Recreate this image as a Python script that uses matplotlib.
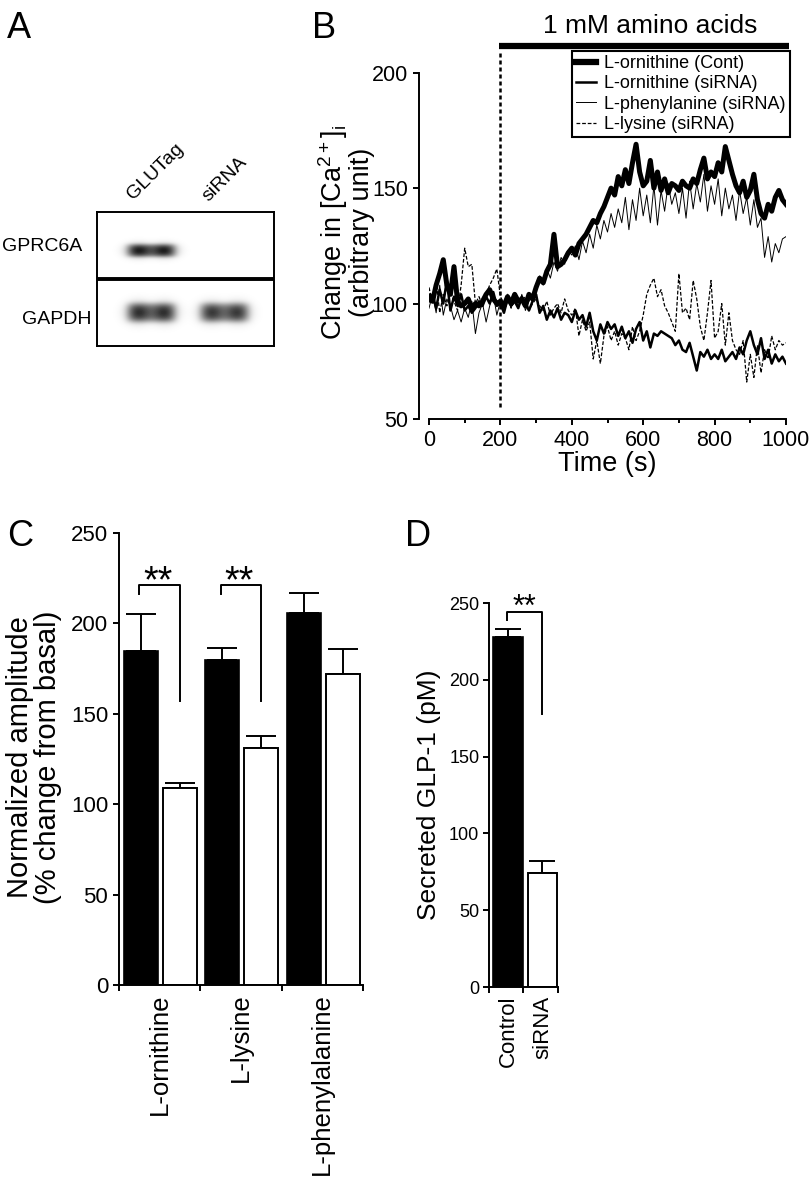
import numpy as np
import matplotlib.pyplot as plt

plt.rcParams['font.family'] = ['Liberation Sans', 'DejaVu Sans']
plt.rcParams['mathtext.fontset'] = 'custom'
plt.rcParams['mathtext.rm'] = 'Liberation Sans'
plt.rcParams['mathtext.it'] = 'Liberation Sans:italic'
plt.rcParams['axes.linewidth'] = 1.4

W, H = 812, 1182

# ---- panel A: western blot ----
blot_lanes = ['GLUTag', 'siRNA']
blot_bands = ['GPRC6A', 'GAPDH']
band_levels = [[0.85, 0.0],
               [0.78, 0.74]]

# ---- panel B: Ca2+ traces, sampled every 10 s ----
time_s = np.arange(0, 1001, 10)
orn_cont = [103, 101, 108, 113, 119, 108, 104, 116, 101, 99,
            100, 102, 98, 100, 99, 101, 104, 106, 102, 100,
            101, 99, 103, 100, 104, 101, 102, 99, 104, 102,
            107, 111, 109, 114, 117, 130, 116, 117, 119, 122,
            124, 121, 126, 128, 130, 133, 136, 135, 139, 142,
            146, 150, 147, 155, 151, 158, 152, 161, 169, 157,
            151, 153, 162, 150, 157, 149, 154, 148, 152, 151,
            149, 153, 151, 150, 154, 152, 158, 163, 154, 157,
            155, 161, 157, 168, 162, 156, 151, 148, 153, 146,
            149, 156, 145, 139, 137, 143, 140, 146, 149, 145,
            143]
orn_sirna = [101, 104, 98, 106, 100, 110, 97, 103, 99, 104,
             97, 99, 96, 98, 101, 99, 103, 100, 105, 99,
             100, 96, 102, 99, 101, 98, 103, 100, 97, 101,
             104, 96, 99, 93, 97, 94, 98, 93, 96, 95,
             92, 97, 93, 95, 90, 96, 88, 84, 91, 87,
             92, 89, 91, 86, 90, 85, 88, 83, 89, 92,
             84, 88, 81, 87, 86, 88, 87, 86, 85, 82,
             84, 80, 79, 83, 77, 71, 79, 77, 80, 76,
             78, 76, 80, 75, 77, 79, 76, 81, 78, 84,
             88, 82, 78, 85, 76, 80, 74, 78, 75, 77,
             74]
phe_sirna = [98, 104, 96, 108, 95, 102, 99, 93, 97, 92,
             98, 94, 101, 87, 96, 100, 92, 99, 104, 95,
             101, 97, 103, 99, 102, 98, 104, 97, 101, 103,
             106, 112, 108, 115, 111, 118, 114, 120, 117, 123,
             121, 125, 119, 127, 122, 130, 124, 134, 128, 136,
             131, 139, 133, 141, 135, 146, 132, 145, 136, 150,
             138, 147, 135, 151, 134, 149, 140, 152, 143, 148,
             139, 150, 137, 153, 141, 152, 144, 156, 140, 151,
             143, 154, 138, 150, 141, 147, 136, 149, 139, 146,
             134, 145, 133, 137, 120, 129, 118, 126, 122, 128,
             129]
lys_sirna = [107, 100, 110, 96, 104, 99, 105, 101, 97, 108,
             124, 116, 117, 100, 103, 99, 104, 108, 111, 115,
             103, 100, 104, 98, 102, 99, 101, 103, 97, 100,
             102, 99, 97, 101, 95, 98, 100, 96, 102, 97,
             95, 98, 86, 93, 88, 92, 76, 84, 74, 86,
             90, 84, 88, 82, 87, 85, 80, 90, 84, 88,
             95, 104, 108, 111, 103, 106, 99, 96, 92, 88,
             113, 96, 98, 93, 110, 102, 90, 84, 96, 110,
             85, 88, 100, 82, 96, 84, 80, 78, 84, 66,
             78, 68, 82, 70, 80, 76, 86, 80, 84, 82,
             83]

# ---- panel C: normalized amplitude ----
amino_acids = ['L-ornithine', 'L-lysine', 'L-phenylalanine']
amp_cont = [185, 180, 206]
amp_cont_err = [20, 6.5, 11]
amp_sirna = [109, 131, 172]
amp_sirna_err = [3, 6.5, 14]

# ---- panel D: secreted GLP-1 ----
glp_groups = ['Control', 'siRNA']
glp_mean = [228, 74]
glp_err = [5, 8]


def px_axes(fig, left, top, right, bottom):
    return fig.add_axes([left / W, 1 - bottom / H, (right - left) / W, (bottom - top) / H])


def ftext(fig, x, y, s, **kw):
    return fig.text(x / W, 1 - y / H, s, **kw)


fig = plt.figure(figsize=(W / 100, H / 100), dpi=100)

# panel letters
for letter, (lx, ly) in zip('ABCD', [(7, 38), (312, 38), (7, 546), (405, 546)]):
    ftext(fig, lx, ly, letter, fontsize=26, va='baseline', ha='left')

# ---------- A ----------
axA = px_axes(fig, 97, 212, 274, 346)
bw, bh = 177, 134
yy, xx = np.mgrid[0:bh, 0:bw]
img = np.zeros((bh, bw))
lane_x = [54, 127]
band_y = [38, 100]
band_h = [6.5, 9.5]
for bi in range(len(blot_bands)):
    for li in range(len(blot_lanes)):
        lvl = band_levels[bi][li]
        for dx in (-13, 13):
            img += lvl * 0.55 * np.exp(-((xx - lane_x[li] - dx) / 12.0) ** 2
                                       - ((yy - band_y[bi]) / band_h[bi]) ** 2)
        img += lvl * 0.5 * np.exp(-((xx - lane_x[li]) / 24.0) ** 6
                                  - ((yy - band_y[bi]) / band_h[bi]) ** 4)
img = np.clip(img, 0, 0.9)
axA.imshow(img, cmap='gray_r', vmin=0, vmax=1, extent=(0, bw, bh, 0),
           aspect='auto', interpolation='bilinear')
axA.axhline(67, color='k', lw=2.8)
axA.set_xticks([])
axA.set_yticks([])
for sp in axA.spines.values():
    sp.set_linewidth(1.4)

ftext(fig, 82, 247, blot_bands[0], fontsize=14, ha='right', va='center')
ftext(fig, 92, 320, blot_bands[1], fontsize=14, ha='right', va='center')
ftext(fig, 133, 200, blot_lanes[0], fontsize=14, rotation=45,
      rotation_mode='anchor', ha='left', va='baseline')
ftext(fig, 208, 202, blot_lanes[1], fontsize=14, rotation=45,
      rotation_mode='anchor', ha='left', va='baseline')

# ---------- B ----------
axB = px_axes(fig, 429, 45, 786, 419)
axB.plot(time_s, lys_sirna, color='k', lw=0.9, ls=(0, (3, 1.5)),
         label='L-lysine (siRNA)')
axB.plot(time_s, phe_sirna, color='k', lw=0.7, label='L-phenylanine (siRNA)')
axB.plot(time_s, orn_sirna, color='k', lw=1.8, label='L-ornithine (siRNA)')
axB.plot(time_s, orn_cont, color='k', lw=3.6, label='L-ornithine (Cont)')
axB.set_xlim(0, 1000)
axB.set_ylim(50, 212)
axB.plot([196, 1008], [211.7, 211.7], color='k', lw=4.5,
         solid_capstyle='butt', clip_on=False)
axB.plot([199, 199], [55, 209], color='k', lw=1.8, ls=(0, (1.6, 1.2)))
axB.text(620, 217.3, '1 mM amino acids', fontsize=19, ha='center',
         va='baseline', clip_on=False)

for sp in ['top', 'right']:
    axB.spines[sp].set_visible(False)
axB.spines['left'].set_position(('outward', 7.2))
axB.spines['left'].set_bounds(50, 200)
axB.set_yticks([50, 100, 150, 200])
axB.set_xticks(np.arange(0, 1001, 200))
axB.set_xticks(np.arange(100, 1000, 200), minor=True)
axB.tick_params(axis='both', which='major', labelsize=15.5, length=4,
                width=1.4, pad=4)
axB.tick_params(axis='x', which='minor', length=3, width=1.4)
axB.set_xlabel('Time (s)', fontsize=19.5, labelpad=0)

handles, labels = axB.get_legend_handles_labels()
order = [3, 2, 1, 0]
leg = axB.legend([handles[i] for i in order], [labels[i] for i in order],
                 loc='upper right', bbox_to_anchor=(1.01, 0.985),
                 fontsize=13, frameon=True, fancybox=False,
                 borderpad=0.25, labelspacing=0.18, handlelength=1.1,
                 handletextpad=0.4, borderaxespad=0)
leg.get_frame().set_edgecolor('k')
leg.get_frame().set_linewidth(1.5)
leg.get_frame().set_alpha(1)
leg.legend_handles[0].set_linewidth(4.5)

ftext(fig, 346, 232, 'Change in [Ca$^{2+}$]$_\\mathrm{i}$\n(arbitrary unit)',
      fontsize=19.5, rotation=90, ha='center', va='center', ma='center',
      linespacing=0.95)

# ---------- C ----------
axC = px_axes(fig, 119, 533, 363, 985)
gx = np.arange(len(amino_acids))
axC.bar(gx + 0.27, amp_cont, width=0.42, color='k', edgecolor='k', lw=1.2, zorder=2)
axC.bar(gx + 0.75, amp_sirna, width=0.42, color='white', edgecolor='k', lw=1.4, zorder=2)
axC.errorbar(gx + 0.27, amp_cont, yerr=[np.zeros(3), amp_cont_err], fmt='none',
             ecolor='k', elinewidth=1.4, capsize=11, capthick=1.4, zorder=1)
axC.errorbar(gx + 0.75, amp_sirna, yerr=[np.zeros(3), amp_sirna_err], fmt='none',
             ecolor='k', elinewidth=1.4, capsize=11, capthick=1.4, zorder=1)
for g in [0, 1]:
    axC.plot([g + 0.25, g + 0.25, g + 0.75, g + 0.75], [216, 221, 221, 157],
             color='k', lw=1.4, clip_on=False)
    axC.text(g + 0.48, 217, '**', fontsize=27, ha='center', va='baseline')
axC.set_xlim(0, 3)
axC.set_ylim(0, 250)
for sp in ['top', 'right']:
    axC.spines[sp].set_visible(False)
axC.set_yticks(np.arange(0, 251, 50))
axC.set_xticks([0, 1, 2, 3])
axC.set_xticklabels([])
axC.set_xticks(gx + 0.5, minor=True)
axC.set_xticklabels(amino_acids, minor=True, rotation=90, fontsize=18.5)
axC.tick_params(axis='both', which='major', labelsize=16, length=4.3,
                width=1.4, pad=3.6)
axC.tick_params(axis='x', which='minor', length=0, pad=6)
ftext(fig, 34, 757, 'Normalized amplitude\n(% change from basal)', fontsize=21,
      rotation=90, ha='center', va='center', ma='center', linespacing=1.0)

# ---------- D ----------
axD = px_axes(fig, 489, 603, 558, 987)
dx_ = np.arange(len(glp_groups)) + 0.55
axD.bar(dx_[0], glp_mean[0], width=0.85, color='k', edgecolor='k', lw=1.2, zorder=2)
axD.bar(dx_[1], glp_mean[1], width=0.85, color='white', edgecolor='k', lw=1.4, zorder=2)
axD.errorbar(dx_, glp_mean, yerr=[np.zeros(2), glp_err], fmt='none', ecolor='k',
             elinewidth=1.4, capsize=9.5, capthick=1.4, zorder=1)
axD.plot([0.52, 0.52, 1.55, 1.55], [239, 244, 244, 178], color='k', lw=1.4,
         clip_on=False)
axD.text(1.02, 241.5, '**', fontsize=22, ha='center', va='baseline')
axD.set_xlim(0, 2)
axD.set_ylim(0, 250)
for sp in ['top', 'right']:
    axD.spines[sp].set_visible(False)
axD.set_yticks(np.arange(0, 251, 50))
axD.set_xticks([0, 1, 2])
axD.set_xticklabels([])
axD.set_xticks(dx_, minor=True)
axD.set_xticklabels(glp_groups, minor=True, rotation=90, fontsize=16)
axD.tick_params(axis='both', which='major', labelsize=13, length=4,
                width=1.4, pad=3)
axD.tick_params(axis='x', which='minor', length=0, pad=6)
ftext(fig, 429, 795, 'Secreted GLP-1 (pM)', fontsize=19, rotation=90,
      ha='center', va='center')

fig.savefig('out.png', dpi=100)
